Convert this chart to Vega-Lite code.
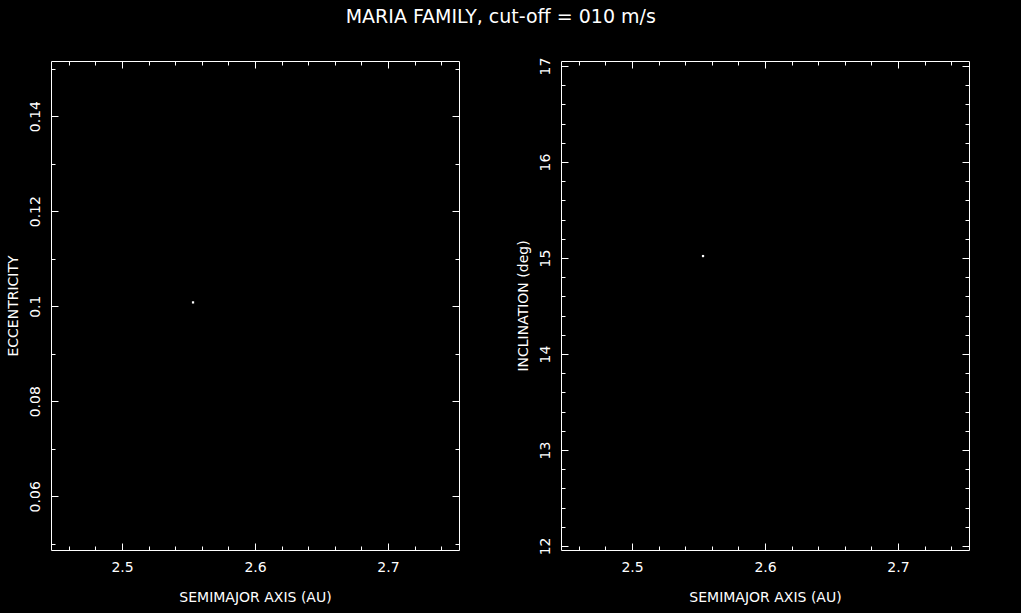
{
  "$schema": "https://vega.github.io/schema/vega-lite/v6.json",
  "background": "black",
  "padding": {"left": 5, "top": 7, "right": 51, "bottom": 17},
  "title": {"text": "MARIA FAMILY, cut-off = 010 m/s", "color": "white", "fontSize": 19, "font": "DejaVu Sans", "fontWeight": "normal", "anchor": "middle", "offset": 30, "dx": 13},
  "data": {"values": [{"a": 2.5534, "e": 0.1008, "i": 15.02}]},
  "spacing": 55,
  "hconcat": [
    {
      "width": 408, "height": 489,
      "layer": [
        {
          "mark": {"type": "point", "filled": true, "shape": "square", "size": 5, "color": "white", "opacity": 1},
          "encoding": {
            "x": {"field": "a", "type": "quantitative", "scale": {"domain": [2.4466, 2.7534], "nice": false, "zero": false},
              "axis": {"orient": "bottom", "title": "SEMIMAJOR AXIS (AU)", "values": [2.46,2.48,2.5,2.52,2.54,2.56,2.58,2.6,2.62,2.64,2.66,2.68,2.7,2.72,2.74],
                "tickSize": {"condition": {"test": "abs(datum.value*10-round(datum.value*10))<0.001", "value": -7}, "value": -4},
                "labelExpr": "abs(datum.value*10-round(datum.value*10))<0.001 ? format(datum.value,'.1f') : ''",
                "labelPadding": 17, "titlePadding": 16, "labelFlush": false}},
            "y": {"field": "e", "type": "quantitative", "scale": {"domain": [0.0487, 0.1516], "nice": false, "zero": false},
              "axis": {"orient": "left", "title": "ECCENTRICITY", "values": [0.05,0.06,0.07,0.08,0.09,0.1,0.11,0.12,0.13,0.14,0.15],
                "tickSize": {"condition": {"test": "abs(datum.value*50-round(datum.value*50))<0.001", "value": -7}, "value": -4},
                "labelExpr": "abs(datum.value*50-round(datum.value*50))<0.001 ? format(datum.value,'~g') : ''",
                "labelAngle": 270, "labelPadding": 16, "titlePadding": 8, "labelFlush": false}}
          }
        },
        {
          "mark": {"type": "point", "filled": true, "shape": "square", "size": 5, "color": "white", "opacity": 0},
          "encoding": {
            "x": {"field": "a", "type": "quantitative", "scale": {"domain": [2.4466, 2.7534], "nice": false, "zero": false},
              "axis": {"orient": "top", "title": null, "labels": false, "values": [2.46,2.48,2.5,2.52,2.54,2.56,2.58,2.6,2.62,2.64,2.66,2.68,2.7,2.72,2.74],
                "tickSize": {"condition": {"test": "abs(datum.value*10-round(datum.value*10))<0.001", "value": -7}, "value": -4}}},
            "y": {"field": "e", "type": "quantitative", "scale": {"domain": [0.0487, 0.1516], "nice": false, "zero": false},
              "axis": {"orient": "right", "title": null, "labels": false, "values": [0.05,0.06,0.07,0.08,0.09,0.1,0.11,0.12,0.13,0.14,0.15],
                "tickSize": {"condition": {"test": "abs(datum.value*50-round(datum.value*50))<0.001", "value": -7}, "value": -4}}}
          }
        }
      ],
      "resolve": {"axis": {"x": "independent", "y": "independent"}}
    },
    {
      "width": 408, "height": 489,
      "layer": [
        {
          "mark": {"type": "point", "filled": true, "shape": "square", "size": 5, "color": "white", "opacity": 1},
          "encoding": {
            "x": {"field": "a", "type": "quantitative", "scale": {"domain": [2.4466, 2.7534], "nice": false, "zero": false},
              "axis": {"orient": "bottom", "title": "SEMIMAJOR AXIS (AU)", "values": [2.46,2.48,2.5,2.52,2.54,2.56,2.58,2.6,2.62,2.64,2.66,2.68,2.7,2.72,2.74],
                "tickSize": {"condition": {"test": "abs(datum.value*10-round(datum.value*10))<0.001", "value": -7}, "value": -4},
                "labelExpr": "abs(datum.value*10-round(datum.value*10))<0.001 ? format(datum.value,'.1f') : ''",
                "labelPadding": 17, "titlePadding": 16, "labelFlush": false}},
            "y": {"field": "i", "type": "quantitative", "scale": {"domain": [11.958, 17.052], "nice": false, "zero": false},
              "axis": {"orient": "left", "title": "INCLINATION (deg)", "values": [12,12.2,12.4,12.6,12.8,13,13.2,13.4,13.6,13.8,14,14.2,14.4,14.6,14.8,15,15.2,15.4,15.6,15.8,16,16.2,16.4,16.6,16.8,17],
                "tickSize": {"condition": {"test": "abs(datum.value-round(datum.value))<0.001", "value": -7}, "value": -4},
                "labelExpr": "abs(datum.value-round(datum.value))<0.001 ? format(datum.value,'.0f') : ''",
                "labelAngle": 270, "labelPadding": 16, "titlePadding": 8, "labelFlush": false}}
          }
        },
        {
          "mark": {"type": "point", "filled": true, "shape": "square", "size": 5, "color": "white", "opacity": 0},
          "encoding": {
            "x": {"field": "a", "type": "quantitative", "scale": {"domain": [2.4466, 2.7534], "nice": false, "zero": false},
              "axis": {"orient": "top", "title": null, "labels": false, "values": [2.46,2.48,2.5,2.52,2.54,2.56,2.58,2.6,2.62,2.64,2.66,2.68,2.7,2.72,2.74],
                "tickSize": {"condition": {"test": "abs(datum.value*10-round(datum.value*10))<0.001", "value": -7}, "value": -4}}},
            "y": {"field": "i", "type": "quantitative", "scale": {"domain": [11.958, 17.052], "nice": false, "zero": false},
              "axis": {"orient": "right", "title": null, "labels": false, "values": [12,12.2,12.4,12.6,12.8,13,13.2,13.4,13.6,13.8,14,14.2,14.4,14.6,14.8,15,15.2,15.4,15.6,15.8,16,16.2,16.4,16.6,16.8,17],
                "tickSize": {"condition": {"test": "abs(datum.value-round(datum.value))<0.001", "value": -7}, "value": -4}}}
          }
        }
      ],
      "resolve": {"axis": {"x": "independent", "y": "independent"}}
    }
  ],
  "config": {
    "view": {"stroke": "white", "strokeWidth": 1},
    "axis": {"domain": false, "grid": false, "labelColor": "white", "tickColor": "white", "titleColor": "white", "labelFont": "DejaVu Sans", "titleFont": "DejaVu Sans", "labelFontSize": 14, "titleFontSize": 14, "titleFontWeight": "normal", "tickWidth": 1}
  }
}
